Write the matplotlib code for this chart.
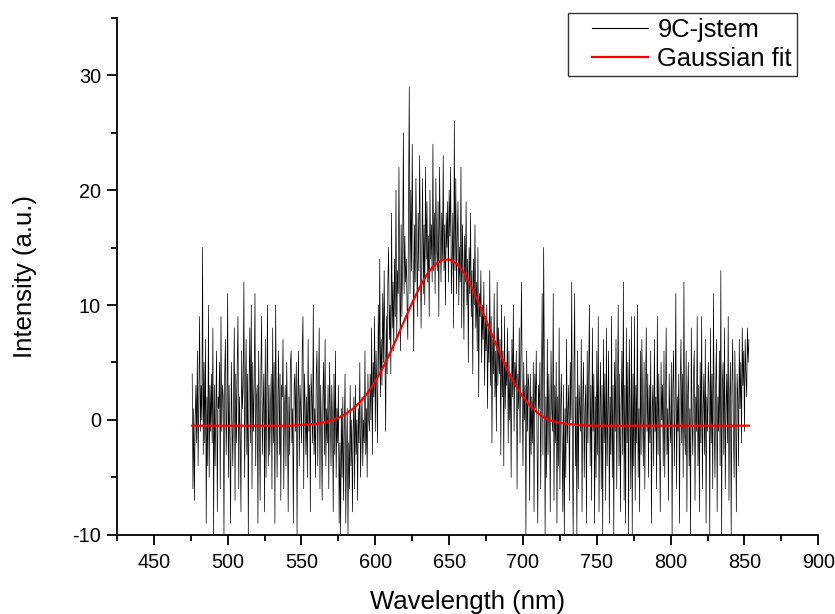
import numpy as np
import matplotlib
matplotlib.use("Agg")
import matplotlib.pyplot as plt
from matplotlib.ticker import MultipleLocator
from matplotlib.legend_handler import HandlerLine2D

plt.rcParams["font.family"] = ["Liberation Sans", "DejaVu Sans"]
plt.rcParams["axes.unicode_minus"] = False

# measured spectrum, 0.5 nm steps starting at 476 nm
wl_start = 476
wl_step = 0.5
intensity = [
    4, -6, 1, -7, 0, 3, -2, 6, -4, 2, 9, -1, 3, 0, 15, -3, 5, -2, 7, -9,
    2, -4, 10, -5, 3, -1, 4, -2, 8, -10, 3, -4, 1, 6, -8, 2, 1, 5, -6, 9,
    -1, 3, 2, -10, 4, 7, -3, 1, 11, -5, 3, -2, -9, 5, 0, -4, 2, 8, -7, 4,
    -2, 5, 9, -6, 2, -1, -8, 6, 1, 3, 12, -5, 2, 7, -3, 4, -10, 3, 8, -2,
    10, -6, 5, -1, 3, 11, -4, 2, 3, -9, 6, 0, -7, 4, 9, -3, 1, 4, -8, 7,
    -5, 2, 10, -4, 3, -3, 1, 4, -6, 8, -2, 5, -9, 10, 1, -5, 2, 6, -3, 4,
    -7, 3, 2, 7, -6, 1, 3, -4, 5, 0, -8, 2, -3, 5, 6, -2, 1, -9, 3, 4,
    -1, 5, -10, 2, 6, -4, 3, 1, -2, 6, 9, -6, 4, 1, -3, 2, -5, 7, -1, 3,
    -8, 4, 2, -2, 10, -3, 1, -5, 4, 6, -4, 2, 8, -6, 3, -1, -7, 2, 5, -3,
    7, -4, 1, -2, 3, -6, 5, 1, -4, 3, 0, -8, 4, -3, 6, -5, 1, -2, 3, -9,
    -2, -10, 1, -5, 2, -7, -1, 4, -9, -3, 1, -10, -2, -6, 3, -4, 0, -8, -1, 2,
    -6, 3, -3, 0, -7, 1, -2, 5, -5, -1, 2, -4, 0, -2, 6, -3, 1, -5, 4, 0,
    -1, 4, 0, 8, -3, 5, 2, 9, -1, 6, 3, -2, 10, 4, 14, 2, 7, 3, 11, 5,
    13, 6, -1, 9, 4, 12, 15, 7, 10, 4, 18, 8, 12, 6, 14, 9, 20, 7, 13, 11,
    22, 12, 6, 17, 9, 14, 25, 11, 16, 12, 14, 10, 7, 19, 29, 11, 20, 13, 24, 15,
    6, 17, 12, 21, 15, 9, 18, 13, 23, 16, 8, 15, 21, 11, 17, 10, 22, 14, 19, 12,
    16, 9, 20, 14, 17, 12, 24, 13, 18, 11, 21, 15, 13, 19, 9, 22, 16, 12, 18, 14,
    23, 13, 17, 10, 18, 15, 19, 12, 20, 16, 22, 11, 14, 18, 8, 26, 13, 21, 11, 16,
    19, 10, 15, 12, 22, 8, 17, 13, 7, 16, 12, 19, 10, 14, 5, 15, 11, 18, 9, 13,
    4, 14, 10, 17, 8, 12, 6, 15, 2, 11, 9, 13, 5, 10, 7, 12, 3, 9, 6, 10,
    1, 8, 5, 13, 3, 9, -2, 7, 4, 11, 2, 6, -1, 12, 3, 8, 4, 7, -3, 10,
    2, 6, -4, 9, 1, 5, 3, 8, -2, 6, 0, 4, -5, 7, 2, 10, -1, 5, 3, 6,
    -6, 4, 1, 8, -2, 5, 12, 2, -4, 5, 0, 3, -10, 6, -1, 4, 3, -7, 4, -3,
    2, -2, 5, -8, 4, 1, 6, -2, -9, 3, 1, 5, -6, 2, 11, -3, 15, 4, -10, 2,
    -5, 7, -3, 4, 0, -8, 6, 1, -1, 11, -7, 3, -2, 5, -9, 2, -4, 8, -6, 1,
    4, -2, -8, 3, -10, 1, -5, 7, -2, 1, 3, -7, 5, 0, 12, -3, -10, 4, 11, -4,
    2, -10, 6, -6, 3, 1, -1, 7, -8, 2, 5, -5, 1, 3, -9, 6, -2, 4, 10, -4,
    3, -7, 8, -1, 4, -9, 2, -5, 6, -3, 9, -8, 1, 5, -6, 3, -10, 7, -2, 4,
    -7, 8, -4, 1, 6, -9, 2, -3, 9, -5, 3, -10, 5, -1, 7, -6, 2, 10, -4, 4,
    -8, 1, 6, -3, 12, -7, 3, -9, 8, -2, 5, -10, 7, 0, -6, 9, -10, 4, -4, 9,
    -7, 3, -2, 10, -5, 1, -8, 6, -3, 7, 1, -4, 5, -6, 2, 8, -1, 4, -5, 3,
    -2, 6, -9, 1, 3, -4, 7, -1, 2, -6, 9, -3, 4, -2, -8, 5, 0, 3, -4, 6,
    -5, 2, 8, -3, 1, -7, 4, 0, -2, 5, -10, 3, 6, -4, 1, 11, -6, 2, -1, 4,
    -9, 3, 7, -2, 4, -5, 12, -1, -3, 6, -8, 2, 5, -4, 1, -10, 8, 0, -3, 4,
    6, -7, 2, -1, 9, -4, 3, -8, 5, -2, 9, -6, 1, 4, -3, 7, -9, 2, -1, 5,
    3, -10, 8, -2, 4, -6, 11, 0, -5, 3, 7, -8, 2, -1, 6, -4, 13, -10, 3, 5,
    -3, 8, -6, 1, 4, -2, 9, -7, 2, 5, -10, 3, 7, -1, -5, 6, 1, -8, 4, 2,
    -4, 7, 1, 5, -2, 8, 3, 6, -1, 7, 4, 2, 8, 5, 7,
]
wavelength = wl_start + wl_step * np.arange(len(intensity))

# gaussian fit curve
fit_wl = [476, 540, 545, 550, 555, 560, 565, 570, 575, 580, 585, 590, 595,
          600, 605, 610, 615, 620, 625, 630, 635, 640, 645, 650, 655, 660,
          665, 670, 675, 680, 685, 690, 695, 700, 705, 710, 715, 720, 725,
          730, 735, 740, 745, 750, 853]
fit_y = [-0.5, -0.5, -0.47, -0.44, -0.40, -0.33, -0.22, -0.06, 0.18, 0.52,
         0.98, 1.60, 2.39, 3.36, 4.51, 5.82, 7.26, 8.74, 10.20, 11.54, 12.66,
         13.48, 13.92, 13.97, 13.60, 12.85, 11.6, 10.2, 8.7, 7.1, 5.6, 4.2,
         3.0, 2.0, 1.2, 0.6, 0.15, -0.1, -0.25, -0.35, -0.42, -0.46, -0.48,
         -0.5, -0.5]


class PaddedLine(HandlerLine2D):
    # legend line with empty room on its left, like the original software
    def get_xdata(self, legend, xdescent, ydescent, width, height, fontsize):
        pad = 0.75 * fontsize
        xs = np.linspace(-xdescent + pad, -xdescent + width, 2)
        return xs, xs


fig = plt.figure(figsize=(8.35, 6.14), dpi=100)
ax = fig.add_axes([0.140, 0.129, 0.840, 0.842])

ax.plot(wavelength, intensity, color="black", lw=0.5, label="9C-jstem")
ax.plot(fit_wl, fit_y, color="red", lw=1.6, label="Gaussian fit")

ax.set_xlim(425, 900)
ax.set_ylim(-10, 35)
ax.xaxis.set_major_locator(MultipleLocator(50))
ax.xaxis.set_minor_locator(MultipleLocator(25))
ax.yaxis.set_major_locator(MultipleLocator(10))
ax.yaxis.set_minor_locator(MultipleLocator(5))
ax.spines["top"].set_visible(False)
ax.spines["right"].set_visible(False)
for s in ("left", "bottom"):
    ax.spines[s].set_linewidth(1.3)
ax.tick_params(which="major", direction="out", length=7, width=1.3,
               labelsize=14.3)
ax.tick_params(axis="x", which="major", pad=6)
ax.tick_params(axis="y", which="major", pad=4.5)
ax.tick_params(which="minor", direction="out", length=4, width=1.3)
ax.set_xticks([450, 500, 550, 600, 650, 700, 750, 800, 850, 900])

ax.set_xlabel("Wavelength (nm)", fontsize=18.5, labelpad=13)
ax.set_ylabel("Intensity (a.u.)", fontsize=18.5, labelpad=25)

leg = ax.legend(loc="upper right", bbox_to_anchor=(0.9545, 0.9788),
                bbox_transform=fig.transFigure, borderaxespad=0,
                fontsize=18.4, handlelength=2.95, handletextpad=0.36,
                labelspacing=0.2, borderpad=0.2, fancybox=False,
                handler_map={plt.Line2D: PaddedLine()})
leg.get_frame().set_edgecolor("black")
leg.get_frame().set_linewidth(1.0)
leg.get_lines()[0].set_linewidth(0.8)

fig.savefig("out.png", dpi=100)
